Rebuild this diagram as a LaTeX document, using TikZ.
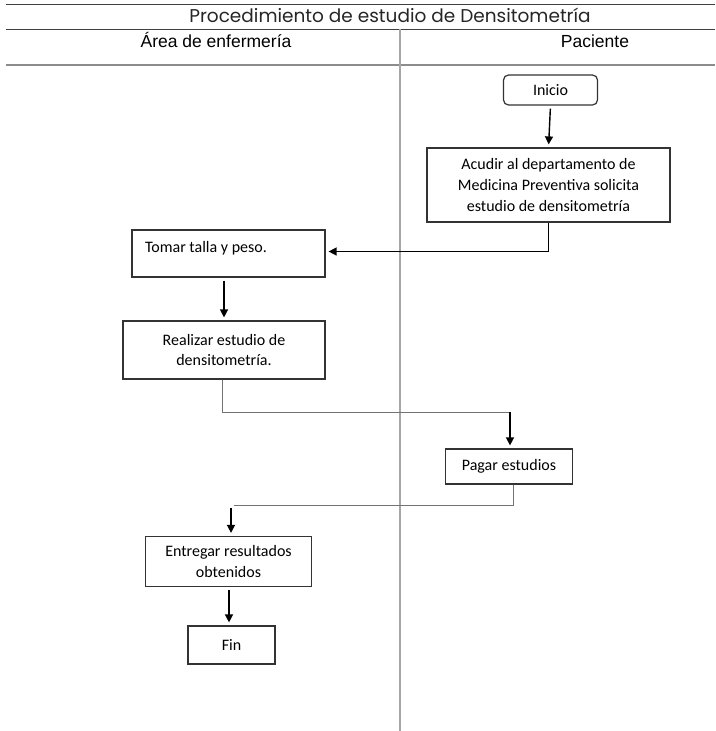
\documentclass[tikz,border=0pt]{standalone}
\usepackage{fontspec}
\setmainfont{Carlito}
\newfontfamily\titulofont{Poppins}
\newfontfamily\arialfont{Liberation Sans}
\usetikzlibrary{positioning}
\usetikzlibrary{arrows.meta}

\begin{document}
\begin{tikzpicture}[x=1pt, y=-1pt,
pasonode/.style={rectangle, draw=black!80, line width=1.2pt, fill=white, align=center, inner sep=0pt, font=\fontsize{16}{20.7}\selectfont},
inicionode/.style={pasonode, rounded corners=5pt},
headnode/.style={font=\arialfont\fontsize{17.5}{19}\selectfont, inner sep=0pt, anchor=base},
flecha/.style={-{Triangle[length=8pt,width=8pt]}, line width=1.4pt, shorten >=3pt},
lineagris/.style={draw=black!55, line width=1pt},
carril/.style={draw=black!35, line width=1.8pt},
borde/.style={draw=black!75, line width=0.9pt},
]
\useasboundingbox (0,0) rectangle (715,731);

%Lanes
\draw[borde] (6,4) -- (715,4);
\draw[borde] (6,29) -- (715,29);
\draw[borde, draw=black!45, line width=1.4pt] (6,65) -- (715,65);
\draw[carril] (400,29) -- (400,731);
\node[font=\titulofont\fontsize{18.5}{20}\selectfont, text=black!85, inner sep=0pt, anchor=base] (titulo) at (390,22.5) {Procedimiento de estudio de Densitometría};
\node[headnode] (enfermeria) at (216,47) {Área de enfermería};
\node[headnode] (paciente) at (595,47) {Paciente};

%Nodes
\node[inicionode, minimum width=94pt, minimum height=30pt] (inicio) at (550.5,90) {Inicio};
\node[pasonode, minimum width=243pt, minimum height=74pt] (acudir) at (548.5,185) {Acudir al departamento de\\Medicina Preventiva solicita\\estudio de densitometría};
\node[pasonode, inner xsep=13pt, inner ysep=8pt, text height=14pt, text depth=17pt] (tomar) at (228.5,253.5) {\makebox[167pt][l]{Tomar talla y peso.}};
\node[pasonode, minimum width=202pt, minimum height=58pt] (realizar) at (224,350) {Realizar estudio de\\densitometría.};
\node[pasonode, minimum width=127pt, minimum height=35pt] (pagar) at (509,466.5) {Pagar estudios};
\node[pasonode, minimum width=166pt, minimum height=50pt] (entregar) at (228.5,561.5) {Entregar resultados\\obtenidos};
\node[pasonode, minimum width=87pt, minimum height=38pt] (fin) at (231.5,645) {Fin};

\coordinate (codo1) at (510,412);
\coordinate (codo2) at (231,505);

%Lines
\draw[flecha, shorten <=3pt] (inicio.south) -- (acudir.north);
\draw[flecha] (acudir.south) |- ([yshift=2pt]tomar.east);
\draw[flecha, shorten <=3pt] (tomar.south -| realizar) -- (realizar.north);
\draw[lineagris] ([xshift=-2pt]realizar.south) |- (codo1);
\draw[flecha] (codo1) -- (codo1 |- pagar.north);
\draw[lineagris] ([xshift=4pt]pagar.south) |- ([xshift=3pt]codo2);
\draw[flecha] ([yshift=-3pt]codo2) -- (codo2 |- entregar.north);
\draw[flecha, shorten <=3pt] ([xshift=0.5pt]entregar.south) -- ([xshift=-2.5pt]fin.north);
\end{tikzpicture}
\end{document}
